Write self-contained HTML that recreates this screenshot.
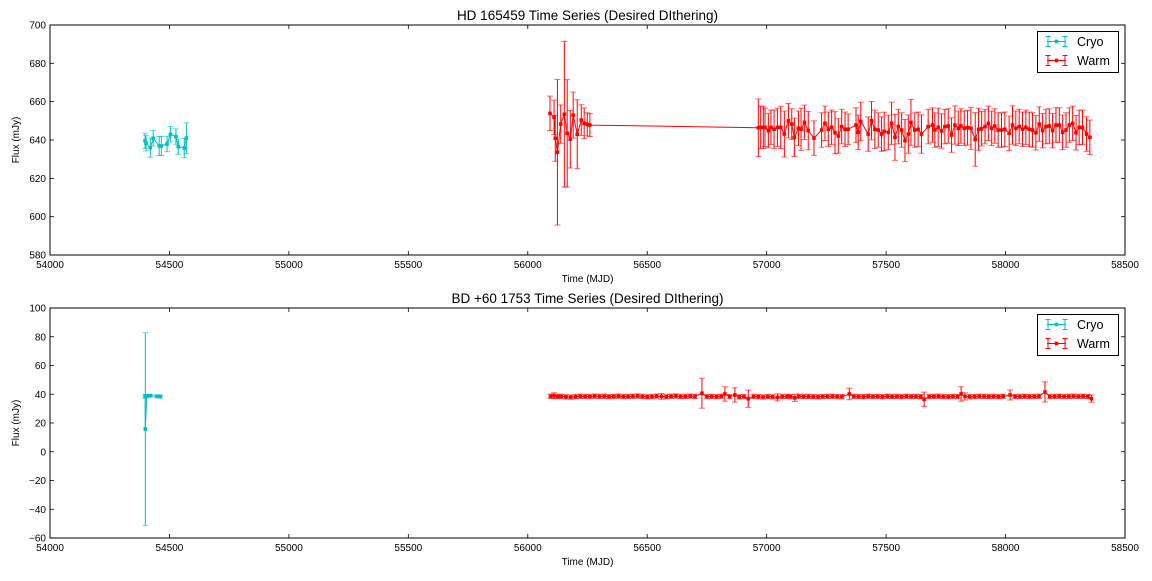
<!DOCTYPE html>
<html><head><meta charset="utf-8">
<style>
body{margin:0;background:#fff;width:1152px;height:576px;overflow:hidden}
svg text{font-family:"Liberation Sans",sans-serif;fill:#000}
</style></head>
<body>
<svg id="chart" width="1152" height="576" viewBox="0 0 1152 576" xmlns="http://www.w3.org/2000/svg"></svg>
<script>
const xTicks = [54000,54500,55000,55500,56000,56500,57000,57500,58000,58500];
const topYTicks = [580,600,620,640,660,680,700];
const botYTicks = [-60,-40,-20,0,20,40,60,80,100];

const topCryoT = [54398,54402,54420,54432,54457,54466,54490,54504,54527,54537,54562,54571];
const topCryoF = [639.6,638.3,636.0,640.9,636.9,636.9,637.9,643.0,641.8,636.5,635.8,641.0];
const topCryoE = [4,4,5,4,5,5,4,4,4,4,5,8];

const topWarmT = [56093,56110,56115,56124,56138,56153,56165,56178,56190,56207,56224,56236,56249,56260,
56965,56975,56986,56993,57007,57018,57031,57045,57059,57074,57091,57105,57116,57133,57144,57158,57174,57198,57230,57244,
57258,57272,57286,57300,57314,57328,57341,57374,57383,57394,57425,57439,57453,57467,57481,57492,57509,57523,57537,57551,
57565,57579,57593,57604,57620,57634,57648,57676,57694,57704,57718,57732,57746,57760,57774,57788,57802,57813,57827,57841,
57855,57873,57887,57900,57914,57928,57942,57955,57969,57983,57997,58015,58029,58043,58057,58071,58085,58099,58113,58127,
58141,58155,58169,58183,58197,58211,58225,58239,58253,58267,58281,58295,58308,58322,58339,58353];
const topWarmF = [653.9,651.8,640.9,633.6,648.3,653.4,643.5,640.4,653.0,643.0,650.4,648.7,648.2,647.8,
646.4,646.6,646.6,646.6,644.9,646.6,645.6,646.6,646.6,643.1,650.1,648.3,641.4,646.1,645.6,649.2,644.9,641.0,645.2,648.7,
645.6,646.6,643.8,642.1,647.0,645.6,645.6,647.8,644.0,649.7,643.1,650.1,645.6,645.2,643.1,644.5,644.0,648.7,641.4,647.0,
645.2,639.7,643.1,649.2,645.2,645.6,643.1,647.0,647.8,645.2,646.6,644.7,647.0,647.3,642.6,647.8,646.1,647.3,646.1,646.4,
646.1,640.3,645.6,645.9,647.0,648.7,646.1,647.3,645.2,645.2,645.6,643.5,647.8,646.1,647.0,645.6,646.6,645.6,645.2,643.8,
648.3,644.9,647.0,647.3,644.9,647.8,647.8,644.0,645.2,647.8,648.7,643.8,646.6,646.6,643.1,641.4];
const topWarmE = [9,9,12,38,10,38,28,15,12,18,8,8,6,6,
15,11,11,10,9,9,10,10,11,12,9,8,10,9,11,9,10,9,9,9,
9,9,11,9,9,9,8,9,9,10,9,10,10,9,9,10,9,11,12,9,
9,11,10,12,9,9,10,9,9,9,10,9,9,9,9,10,9,9,9,9,
11,14,11,9,9,9,9,9,9,9,9,9,10,9,9,9,9,9,9,9,
9,9,9,9,9,9,9,9,9,9,9,9,9,9,9,9];

const botCryoT = [54398,54399,54405,54420,54448,54462];
const botCryoF = [38.5,15.8,38.8,39.0,38.6,38.4];
const botCryoE = [1.2,67,1,1,1,1];

const botWarmT = [56095,56110,56125,56140,56160,56180,56200,56220,56240,56260,56280,56300,56320,56340,56360,56380,56400,56420,
56440,56460,56480,56500,56520,56540,56560,56580,56600,56620,56640,56660,56680,56700,56729,56750,56770,56790,56810,56825,56845,
56867,56885,56905,56923,56945,56965,56985,57005,57025,57045,57065,57085,57100,57118,57135,57155,57175,57195,57215,57235,57255,
57275,57295,57315,57346,57365,57385,57405,57425,57445,57465,57485,57505,57525,57545,57565,57585,57605,57625,57645,57659,57680,
57700,57720,57740,57760,57780,57800,57814,57830,57850,57870,57890,57910,57930,57950,57970,57990,58019,58040,58060,58080,58100,
58120,58140,58165,58185,58205,58225,58245,58265,58285,58305,58325,58345,58360];
const botWarmF = [38.6,39.0,38.4,38.5,38.2,38.0,38.3,38.6,38.5,38.4,38.7,38.5,38.6,38.3,38.5,38.7,38.4,38.5,
38.6,38.8,38.5,38.2,38.4,38.7,38.5,38.3,38.6,38.8,38.4,38.5,38.7,38.5,40.7,38.4,38.5,38.3,38.6,40.2,38.4,
39.5,38.2,38.4,36.9,38.5,38.3,38.1,38.4,38.2,37.8,38.4,38.5,38.3,37.5,38.6,38.4,38.5,38.3,38.2,38.4,38.5,
38.6,38.4,38.3,40.2,38.5,38.4,38.3,38.6,38.4,38.5,38.3,38.6,38.4,38.5,38.3,38.6,38.4,38.5,38.3,36.5,38.4,
38.5,38.6,38.4,38.3,38.5,38.4,40.2,38.5,38.3,38.4,38.6,38.5,38.4,38.5,38.3,38.6,39.5,38.4,38.5,38.6,38.4,
38.5,38.6,41.6,38.4,38.5,38.6,38.4,38.5,38.7,38.5,38.6,38.4,36.9];
const botWarmE = [1.5,2,1.5,1.5,1.5,1.5,1.5,1.5,1.5,1.5,1.5,1.5,1.5,1.5,1.5,1.5,1.5,1.5,
1.5,1.5,1.5,1.5,1.5,1.5,2,1.5,1.5,1.5,1.5,1.5,1.5,1.5,10.4,1.5,1.5,1.5,1.5,5,1.5,
5,1.5,1.5,6,1.5,1.5,1.5,1.5,1.5,2.5,1.5,1.5,1.5,2.5,1.5,1.5,1.5,1.5,1.5,1.5,1.5,
1.5,1.5,1.5,4,1.5,1.5,1.5,1.5,1.5,1.5,1.5,1.5,1.5,1.5,1.5,1.5,1.5,1.5,1.5,5,1.5,
1.5,1.5,1.5,1.5,1.5,1.5,5,2.5,1.5,1.5,1.5,1.5,1.5,1.5,1.5,1.5,3.5,1.5,1.5,1.5,1.5,
1.5,1.5,7,1.5,1.5,1.5,1.5,1.5,1.5,1.5,1.5,1.5,2.5];

const svg = document.getElementById('chart');
const NS = 'http://www.w3.org/2000/svg';
function mk(tag, attrs, parent){
  const e = document.createElementNS(NS, tag);
  for (const k in attrs) e.setAttribute(k, attrs[k]);
  (parent||svg).appendChild(e);
  return e;
}
const CYAN = '#00bfbf', RED = '#ff0000';

function panel(o){
  const L=50,R=1125,T=o.top,B=o.top+230;
  const xs = v => L + (v-54000)/(58500-54000)*(R-L);
  const ys = v => B - (v-o.ymin)/(o.ymax-o.ymin)*(B-T);
  const g = mk('g',{});
  
  
  const t = mk('text',{x:(L+R)/2,y:T-5,'text-anchor':'middle','font-size':13.5},g);
  t.textContent = o.title;
  
  
  const ticks = mk('g',{},g);
  
  
  xTicks.forEach(v=>{
    const x = xs(v);
    mk('line',{x1:x,x2:x,y1:B,y2:B-4,stroke:'#000','stroke-width':0.8},ticks);
    mk('line',{x1:x,x2:x,y1:T,y2:T+4,stroke:'#000','stroke-width':0.8},ticks);
    const tl = mk('text',{x:x,y:B+13,'text-anchor':'middle','font-size':10},ticks);
    tl.textContent = v;
    
    
  });
  o.yTicks.forEach(v=>{
    const y = ys(v);
    mk('line',{x1:L,x2:L+4,y1:y,y2:y,stroke:'#000','stroke-width':0.8},ticks);
    mk('line',{x1:R,x2:R-4,y1:y,y2:y,stroke:'#000','stroke-width':0.8},ticks);
    const tl = mk('text',{x:L-4,y:y+3.5,'text-anchor':'end','font-size':10},ticks);
    tl.textContent = v < 0 ? '\u2212'+(-v) : v;
    
    
  });
  const xl = mk('text',{x:(L+R)/2,y:B+27,'text-anchor':'middle','font-size':10},g);
  xl.textContent = 'Time (MJD)';
  
  
  const yl = mk('text',{x:0,y:0,'text-anchor':'middle','font-size':10,transform:`translate(19,${(T+B)/2}) rotate(-90)`},g);
  yl.textContent = 'Flux (mJy)';
  
  

  function series(T_,F,E,color,name){
    const sg = mk('g',{},g);
    
    
    for(let i=0;i<T_.length;i++){
      const x=xs(T_[i]), y1=ys(F[i]+E[i]), y2=ys(F[i]-E[i]);
      const eb = mk('line',{x1:x,x2:x,y1:y1,y2:y2,stroke:color,'stroke-width':1},sg);
      
      
      mk('line',{x1:x-3,x2:x+3,y1:y1,y2:y1,stroke:color,'stroke-width':1,'stroke-opacity':0.6},sg);
      mk('line',{x1:x-3,x2:x+3,y1:y2,y2:y2,stroke:color,'stroke-width':1,'stroke-opacity':0.6},sg);
    }
    const pts = T_.map((t,i)=>xs(t).toFixed(1)+','+ys(F[i]).toFixed(1)).join(' ');
    const pl = mk('polyline',{points:pts,fill:'none',stroke:color,'stroke-width':1},sg);
    
    
    for(let i=0;i<T_.length;i++){
      const m = mk('rect',{x:xs(T_[i])-1.8,y:ys(F[i])-1.8,width:3.6,height:3.6,fill:color},sg);
      
      
    }
  }
  series(o.cT,o.cF,o.cE,CYAN,'cryo-series');
  series(o.wT,o.wF,o.wE,RED,'warm-series');

  const fr = mk('rect',{x:L,y:T,width:R-L,height:B-T,fill:'none',stroke:'#000','stroke-width':1},g);
  
  

  const lg = mk('g',{},g);
  
  
  mk('rect',{x:1037.5,y:T+6.5,width:81,height:41,fill:'#fff',stroke:'#000','stroke-width':1},lg);
  [['Cryo',CYAN],['Warm',RED]].forEach((e,i)=>{
    const y = T+16.5+i*19;
    const en = mk('g',{},lg);
    
    
    mk('line',{x1:1047,x2:1066,y1:y,y2:y,stroke:e[1],'stroke-width':1},en);
    [1048,1065].forEach(x=>{
      mk('line',{x1:x,x2:x,y1:y-5,y2:y+5,stroke:e[1],'stroke-width':1},en);
      mk('line',{x1:x-2.5,x2:x+2.5,y1:y-5,y2:y-5,stroke:e[1],'stroke-width':1},en);
      mk('line',{x1:x-2.5,x2:x+2.5,y1:y+5,y2:y+5,stroke:e[1],'stroke-width':1},en);
    });
    mk('rect',{x:1054.7,y:y-1.8,width:3.6,height:3.6,fill:e[1]},en);
    const tx = mk('text',{x:1077,y:y+4.5,'font-size':12.5},en);
    tx.textContent = e[0];
  });
}

panel({name:'top-panel',top:25,ymin:580,ymax:700,yTicks:topYTicks,title:'HD 165459 Time Series (Desired DIthering)',
  cT:topCryoT,cF:topCryoF,cE:topCryoE,wT:topWarmT,wF:topWarmF,wE:topWarmE});
panel({name:'bottom-panel',top:308,ymin:-60,ymax:100,yTicks:botYTicks,title:'BD +60 1753 Time Series (Desired DIthering)',
  cT:botCryoT,cF:botCryoF,cE:botCryoE,wT:botWarmT,wF:botWarmF,wE:botWarmE});
</script>
</body></html>
